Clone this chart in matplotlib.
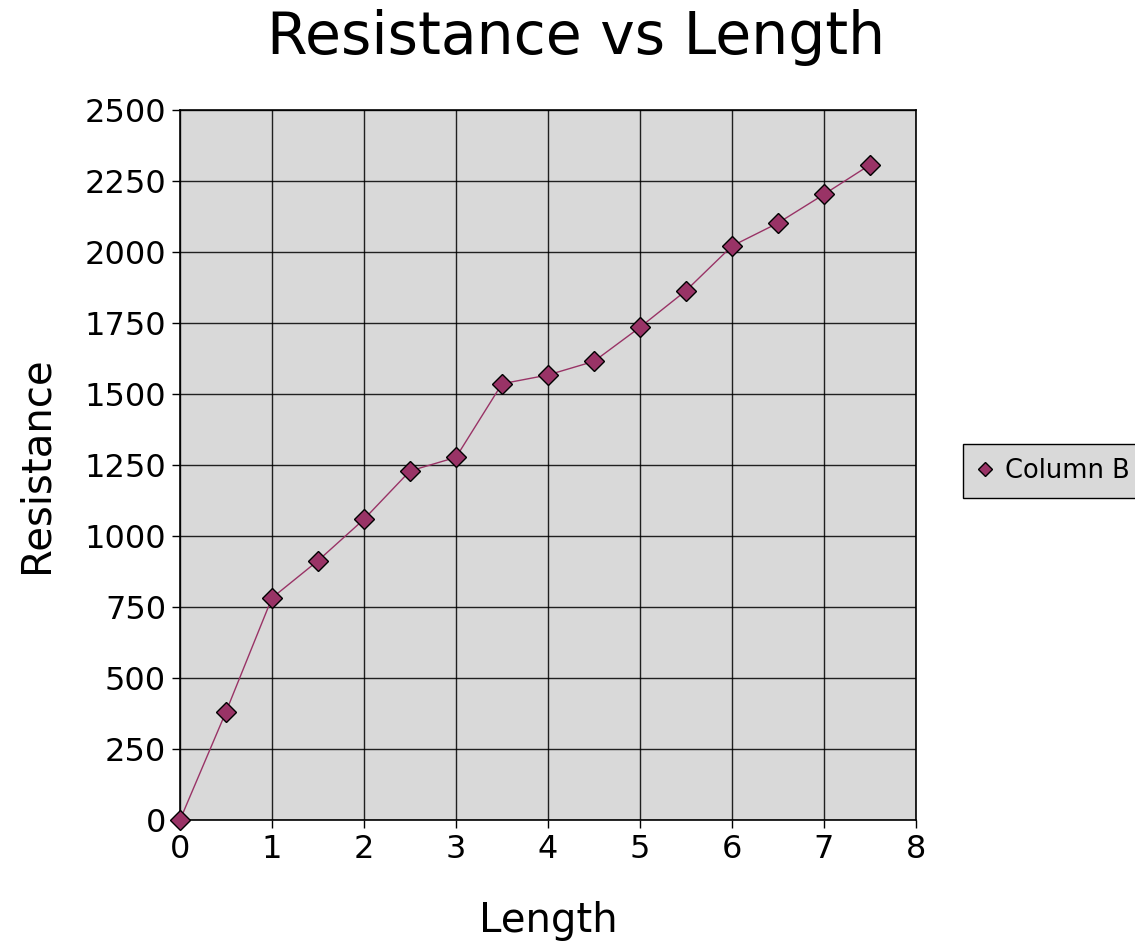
import matplotlib
matplotlib.use("Agg")
import matplotlib.pyplot as plt

length = [0, 0.5, 1, 1.5, 2, 2.5, 3, 3.5, 4, 4.5, 5, 5.5, 6, 6.5, 7, 7.5]
resistance = [0, 381, 782, 913, 1059, 1229, 1277, 1536, 1567, 1615, 1735, 1864, 2021, 2102, 2203, 2307]
x_ticks = [0, 1, 2, 3, 4, 5, 6, 7, 8]
y_ticks = [0, 250, 500, 750, 1000, 1250, 1500, 1750, 2000, 2250, 2500]

plt.rcParams['font.family'] = ['DejaVu Sans']

fig = plt.figure(figsize=(11.35, 9.49), dpi=100)
ax = fig.add_axes([180/1135, 1-820/949, (916-180)/1135, (820-110)/949])
ax.set_facecolor('#d9d9d9')
ax.plot(length, resistance, color='#993366', lw=1, marker='D', markersize=10,
        markerfacecolor='#993366', markeredgecolor='black', markeredgewidth=1,
        label='Column B', zorder=3, clip_on=False)
ax.set_xlim(0, 8)
ax.set_ylim(0, 2500)
ax.set_xticks(x_ticks)
ax.set_yticks(y_ticks)
ax.grid(True, color='#000000', lw=1, alpha=0.85)
ax.set_axisbelow(True)
for s in ax.spines.values():
    s.set_color('black')
    s.set_linewidth(1.2)
ax.tick_params(labelsize=23, length=6, width=1, direction='out', pad=4)
fig.text(576/1135, 1-37/949, 'Resistance vs Length', fontsize=42, ha='center', va='center')
ax.set_xlabel('Length', fontsize=29, labelpad=26)
ax.set_ylabel('Resistance', fontsize=29, labelpad=20)

leg = fig.legend(loc='center left', bbox_to_anchor=(963/1135, 1-471/949),
                 fontsize=18.5, frameon=True, fancybox=False, handlelength=0.6,
                 borderpad=0.55, handletextpad=0.5, markerscale=0.7, borderaxespad=0)
leg.get_frame().set_facecolor('#d9d9d9')
leg.get_frame().set_edgecolor('black')
leg.get_frame().set_alpha(1)
for h in leg.get_lines():
    h.set_linestyle('none')

fig.savefig('out.png', dpi=100)
